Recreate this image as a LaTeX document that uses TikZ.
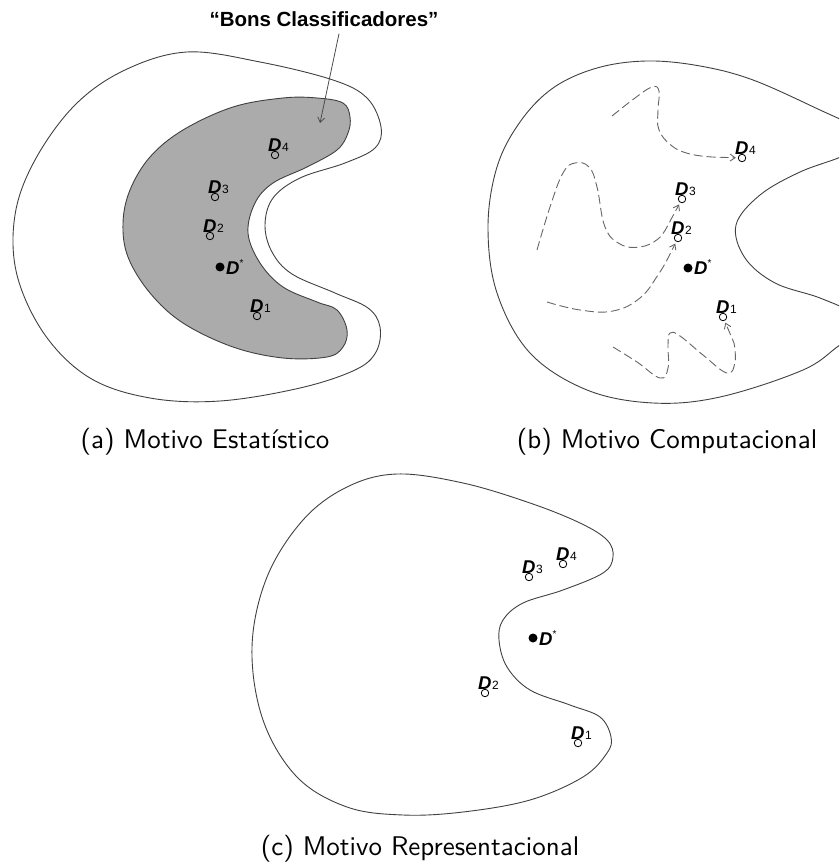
\documentclass[tikz,border=0pt]{standalone}
\usepackage{fontspec}
\usetikzlibrary{arrows.meta}
\newfontfamily\arial{Liberation Sans}
\newfontfamily\capfont{lmsans10-regular.otf}
\newcommand{\Dsub}[1]{{\arial\fontsize{18.5}{18}\selectfont\bfseries\itshape D}\kern0.5pt{\arial\fontsize{12}{12}\selectfont #1}}
\newcommand{\Dopt}{{\arial\fontsize{18.5}{18}\selectfont\bfseries\itshape D}\raisebox{8pt}{\arial\fontsize{10}{10}\selectfont *}}
\newcommand{\subcaption}[1]{{\capfont\fontsize{27}{30}\selectfont #1}}

\begin{document}
\begin{tikzpicture}[x=1pt,y=-1pt,>={Straight Barb[length=5pt,width=7pt]},
  bound/.style={draw=black!75,line width=0.9pt},
  good/.style={bound,fill=black!33},
  walk/.style={draw=black!60,line width=0.9pt,dash pattern=on 9pt off 4pt,->,shorten >=2pt},
  pt/.style={circle,draw,line width=0.8pt,inner sep=0pt,minimum size=7.5pt},
  opt/.style={circle,fill,inner sep=0pt,minimum size=9pt},
  dl/.style={anchor=base,inner sep=0pt,xshift=3.5pt,yshift=3.5pt},
  ds/.style={anchor=base west,inner sep=0pt,xshift=6pt,yshift=-7pt},
  capt/.style={anchor=base,inner sep=0pt}]
  \useasboundingbox (0,0) rectangle (839,866);
  \clip (0,0) rectangle (839,866);

  % (a) statistical
  \draw[bound] plot[smooth cycle,tension=0.6] coordinates {(187,52) (260,62) (333,80) (367,98) (381,127) (375,148) (345,163) (300,178) (273,198) (265,225) (272,252) (292,274) (335,293) (368,308) (380,327) (376,352) (355,370) (300,388) (220,401) (150,398) (90,378) (45,335) (17,275) (15,215) (35,160) (75,105) (125,70)};
  \draw[good] plot[smooth cycle,tension=0.6] coordinates {(350,117) (343,103) (317,98) (283,98) (233,107) (183,130) (150,157) (130,190) (123,223) (128,257) (150,293) (183,323) (233,347) (283,358) (327,357) (343,347) (347,330) (337,310) (317,302) (283,287) (260,263) (248,233) (255,203) (273,183) (307,167) (337,150) (348,133)};
  \node[pt] (a4) at (275,155) {};
  \node[pt] (a3) at (215,197) {};
  \node[pt] (a2) at (210,236) {};
  \node[opt] (aS) at (220,267) {};
  \node[pt] (a1) at (257,316) {};
  \node[dl] (la4) at (a4) {\Dsub{4}};
  \node[dl] (la3) at (a3) {\Dsub{3}};
  \node[dl] (la2) at (a2) {\Dsub{2}};
  \node[ds] (laS) at (aS) {\Dopt};
  \node[dl] (la1) at (a1) {\Dsub{1}};
  \node[anchor=base] (good) at (324,27) {\arial\fontsize{20.5}{20}\selectfont\bfseries “Bons Classificadores”};
  \coordinate (goodin) at (320,123);
  \draw[->,draw=black!70,line width=0.8pt] ([xshift=15pt,yshift=-3pt]good.south) -- (goodin);
  \node[capt] (capa) at (205,448) {\subcaption{(a) Motivo Estatístico}};

  % (b) computational
  \draw[bound] plot[smooth cycle,tension=0.6] coordinates {(647,61) (700,66) (753,80) (820,110) (850,125) (860,140) (845,155) (800,172) (760,195) (736,225) (745,258) (775,283) (820,298) (855,315) (860,335) (840,345) (803,370) (720,397) (653,403) (587,390) (530,353) (497,293) (488,227) (497,167) (520,122) (553,88) (597,68)};
  \node[pt] (b4) at (742,158) {};
  \node[pt] (b3) at (682,199) {};
  \node[pt] (b2) at (678,238) {};
  \node[opt] (bS) at (688,268) {};
  \node[pt] (b1) at (723,317) {};
  \node[dl] (lb4) at (b4) {\Dsub{4}};
  \node[dl] (lb3) at (b3) {\Dsub{3}};
  \node[dl] (lb2) at (b2) {\Dsub{2}};
  \node[ds] (lbS) at (bS) {\Dopt};
  \node[dl] (lb1) at (b1) {\Dsub{1}};
  \draw[walk] plot[smooth,tension=0.7] coordinates {(612,116) (635,98) (652,87) (659,91) (658,110) (659,130) (672,146) (690,154) (712,157)} -- (b4);
  \draw[walk] plot[smooth,tension=0.7] coordinates {(537,250) (550,207) (563,173) (575,163) (589,167) (597,187) (605,227) (620,244) (640,247) (658,239) (668,225)} -- (b3);
  \draw[walk] plot[smooth,tension=0.7] coordinates {(547,302) (580,310) (613,311) (640,298) (658,275) (668,258)} -- (b2);
  \draw[walk] plot[smooth,tension=0.7] coordinates {(613,347) (637,362) (660,378) (668,368) (668,345) (670,333) (680,336) (703,355) (727,373) (735,362) (734,343)} -- (b1);
  \node[capt] (capb) at (667,448) {\subcaption{(b) Motivo Computacional}};

  % (c) representational
  \draw[bound] plot[smooth cycle,tension=0.6] coordinates {(397,474) (463,483) (530,503) (580,523) (607,540) (613,557) (603,573) (563,590) (523,603) (503,620) (499,640) (507,667) (530,690) (570,705) (600,717) (611,737) (607,753) (583,777) (530,800) (463,812) (403,815) (347,807) (297,777) (263,720) (252,647) (267,577) (303,520) (347,487)};
  \node[pt] (c4) at (563,564) {};
  \node[pt] (c3) at (529,577) {};
  \node[opt] (cS) at (533,638) {};
  \node[pt] (c2) at (485,693) {};
  \node[pt] (c1) at (578,743) {};
  \node[dl] (lc4) at (c4) {\Dsub{4}};
  \node[dl] (lc3) at (c3) {\Dsub{3}};
  \node[ds] (lcS) at (cS) {\Dopt};
  \node[dl] (lc2) at (c2) {\Dsub{2}};
  \node[dl] (lc1) at (c1) {\Dsub{1}};
  \node[capt] (capc) at (420,855) {\subcaption{(c) Motivo Representacional}};
\end{tikzpicture}
\end{document}
